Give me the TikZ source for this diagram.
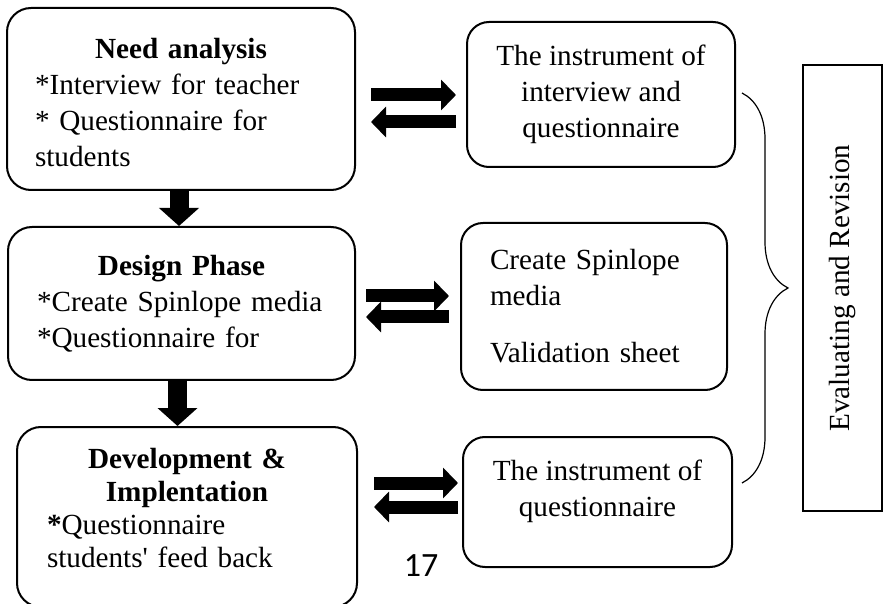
\documentclass[tikz,border=0pt]{standalone}
\usepackage{fontspec}
\setmainfont{Liberation Serif}
\newfontfamily\numfont{Carlito}
\usetikzlibrary{arrows.meta,decorations.pathreplacing}
\newcommand{\boxfont}{\fontsize{14.6}{18}\selectfont}

\begin{document}
\begin{tikzpicture}[x={0.5pt}, y={-0.5pt},
    phase/.style={draw, line width=1pt, rounded corners=12pt, align=left,
      inner xsep=14pt, inner ysep=0pt, font=\boxfont},
    tool/.style={draw, line width=1pt, rounded corners=11pt, align=center,
      inner sep=0pt, font=\boxfont},
    fat/.style={line width=6.5pt, -{Triangle[width=15pt,length=7.5pt]}},
    fatdown/.style={line width=9.5pt, -{Triangle[width=19.5pt,length=9pt]}}]
  \useasboundingbox (0,0) rectangle (884,604);

  % the three phases
  \node[phase, text width=146pt, minimum width=174pt, minimum height=91pt] (need) at (181,99)
    {\makebox[\linewidth]{\rule{0pt}{13.5pt}\textbf{Need analysis}}\\ {*}Interview for teacher\\
     {*} Questionnaire for\\ students};
  \node[phase, text width=144.5pt, minimum width=173.5pt, minimum height=76.5pt] (design) at (181.5,303.5)
    {\makebox[\linewidth]{\textbf{Design Phase}}\\ {*}Create Spinlope media\\ {*}Questionnaire for};
  \node[phase, text width=140pt, minimum width=170pt, minimum height=90pt,
      font=\fontsize{14.6}{16.5}\selectfont] (devel) at (187,517)
    {\makebox[\linewidth]{\textbf{Development \&}}\\ \makebox[\linewidth]{\textbf{Implentation}}\\
     \textbf{*}Questionnaire\\ students\textquotesingle{} feed back\rule[-9pt]{0pt}{9pt}};

  % instruments
  \node[tool, minimum width=134pt, minimum height=72.5pt] (instrA) at (601,94.5)
    {The instrument of\\ interview and\\ questionnaire};
  \node[phase, inner xsep=14.5pt, text width=104pt, minimum width=133pt, minimum height=83.5pt,
      rounded corners=11pt] (media) at (594,306.5)
    {Create Spinlope\\ media\\[10.5pt] Validation sheet};
  \node[tool, minimum width=134.5pt, minimum height=65pt] (instrC) at (597.5,502)
    {The instrument of\\ questionnaire\rule[-13.7pt]{0pt}{13.7pt}};

  \node[draw, line width=0.8pt, rotate=90, minimum width=223pt, minimum height=39.5pt,
      inner sep=0pt, font=\boxfont] (evalrev) at (842.5,288) {Evaluating and Revision};

  % flow between the phases
  \draw[fatdown, transform canvas={xshift=-1pt}] (need.south) -- (need.south |- design.north);
  \draw[fatdown, transform canvas={xshift=-2pt}] (design.south) -- (design.south |- devel.north);

  % to and fro with the instruments
  \foreach \l/\r/\ya/\yb/\sa/\sb in {need/instrA/95/122/7.5/5, design/media/296/317/5/5.5,
      devel/instrC/483/507/8/2} {
    \draw[fat, shorten <=\sa pt, shorten >=\sb pt] (\l.east |- 0,\ya) -- (\r.west |- 0,\ya);
    \draw[fat, shorten <=\sb pt, shorten >=\sa pt] (\r.west |- 0,\yb) -- (\l.east |- 0,\yb);
  }

  \draw[decorate, decoration={brace, amplitude=23pt}, line width=0.6pt] (742,93) -- (742,483);

  \node[font=\numfont\fontsize{17}{20}\selectfont] (pagenum) at (421,566) {17};
\end{tikzpicture}
\end{document}
